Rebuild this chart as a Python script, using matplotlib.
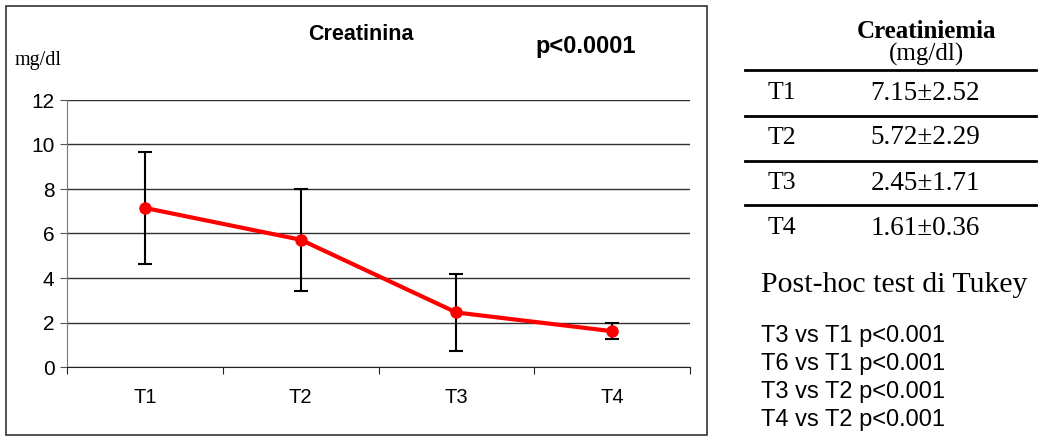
import numpy as np
import matplotlib
matplotlib.use("Agg")
import matplotlib.pyplot as plt
from matplotlib.patches import Rectangle

# creatinine values (mg/dl) at each time point
times = ["T1", "T2", "T3", "T4"]
means = [7.15, 5.72, 2.45, 1.61]
sds = [2.52, 2.29, 1.71, 0.36]
posthoc = ["T3 vs T1 p<0.001", "T6 vs T1 p<0.001",
           "T3 vs T2 p<0.001", "T4 vs T2 p<0.001"]

W, H = 1039, 436
fig = plt.figure(figsize=(W / 100, H / 100), dpi=100)

def fx(px):
    return px / W

def fy(py):
    return 1 - py / H

sans = "Liberation Sans"
serif = "Liberation Serif"

# frame around the chart
fig.patches.append(Rectangle((fx(6), fy(435)), fx(707) - fx(6), fy(6) - fy(435),
                             transform=fig.transFigure, fill=False,
                             edgecolor="#333333", linewidth=1.2))

ax = fig.add_axes([fx(67), fy(367), fx(690) - fx(67), fy(100) - fy(367)])
x = np.arange(len(times))
ax.set_xlim(-0.5, len(times) - 0.5)
ax.set_ylim(0, 12)
ax.set_yticks(range(0, 13, 2))
ax.set_yticklabels([str(v) for v in range(0, 13, 2)], fontfamily=sans, fontsize=15)
ax.yaxis.grid(True, color="#303030", linewidth=1.0)
ax.set_axisbelow(True)
for s in ["top", "right"]:
    ax.spines[s].set_visible(False)
ax.spines["left"].set_color("#777777")
ax.spines["bottom"].set_color("#222222")
ax.tick_params(axis="y", direction="out", length=5, pad=4, color="#555555")

# category ticks sit on the boundaries, labels in the middle
ax.set_xticks(np.arange(-0.5, len(times), 1.0))
ax.set_xticklabels([])
ax.tick_params(axis="x", which="major", direction="out", length=5, color="#222222")
ax.set_xticks(x, minor=True)
ax.set_xticklabels(times, minor=True, fontfamily=sans, fontsize=14.5)
ax.tick_params(axis="x", which="minor", length=0, pad=15)

ax.errorbar(x, means, yerr=sds, fmt="none", ecolor="black", elinewidth=1.5,
            capsize=5.3, capthick=1.5, zorder=3)
ax.plot(x, means, color="red", linewidth=3, marker="o", markersize=8, zorder=4)

fig.text(fx(361), fy(34), "Creatinina", fontfamily=sans, fontweight="bold",
         fontsize=15.5, ha="center", va="center")
fig.text(fx(586), fy(47), "p<0.0001", fontfamily=sans, fontweight="bold",
         fontsize=17, ha="center", va="center")
fig.text(fx(15), fy(60), "mg/dl", fontfamily=serif, fontsize=14.5,
         ha="left", va="center")

# summary table
fig.text(fx(927), fy(31), "Creatiniemia", fontfamily=serif, fontweight="bold",
         fontsize=18, ha="center", va="center")
fig.text(fx(927), fy(54), "(mg/dl)", fontfamily=serif, fontsize=18,
         ha="center", va="center")
for yl in [70, 116, 161, 205]:
    for x0, x1 in [(745, 816), (818, 1036)]:
        fig.add_artist(plt.Line2D([fx(x0), fx(x1)], [fy(yl), fy(yl)],
                                  transform=fig.transFigure, color="black",
                                  linewidth=2.0))
row_y = [93, 138, 183, 228]
for t, m, s, yy in zip(times, means, sds, row_y):
    fig.text(fx(768), fy(yy), t, fontfamily=serif, fontsize=18.5,
             ha="left", va="center")
    fig.text(fx(925), fy(yy), f"{m:.2f}\u00b1{s:.2f}", fontfamily=serif,
             fontsize=19.5, ha="center", va="center")

fig.text(fx(761), fy(285), "Post-hoc test di Tukey", fontfamily=serif,
         fontsize=21.5, ha="left", va="center")
for i, line in enumerate(posthoc):
    fig.text(fx(761), fy(336 + 28 * i), line, fontfamily=sans,
             fontsize=17, ha="left", va="center")

fig.savefig("out.png", dpi=100)
